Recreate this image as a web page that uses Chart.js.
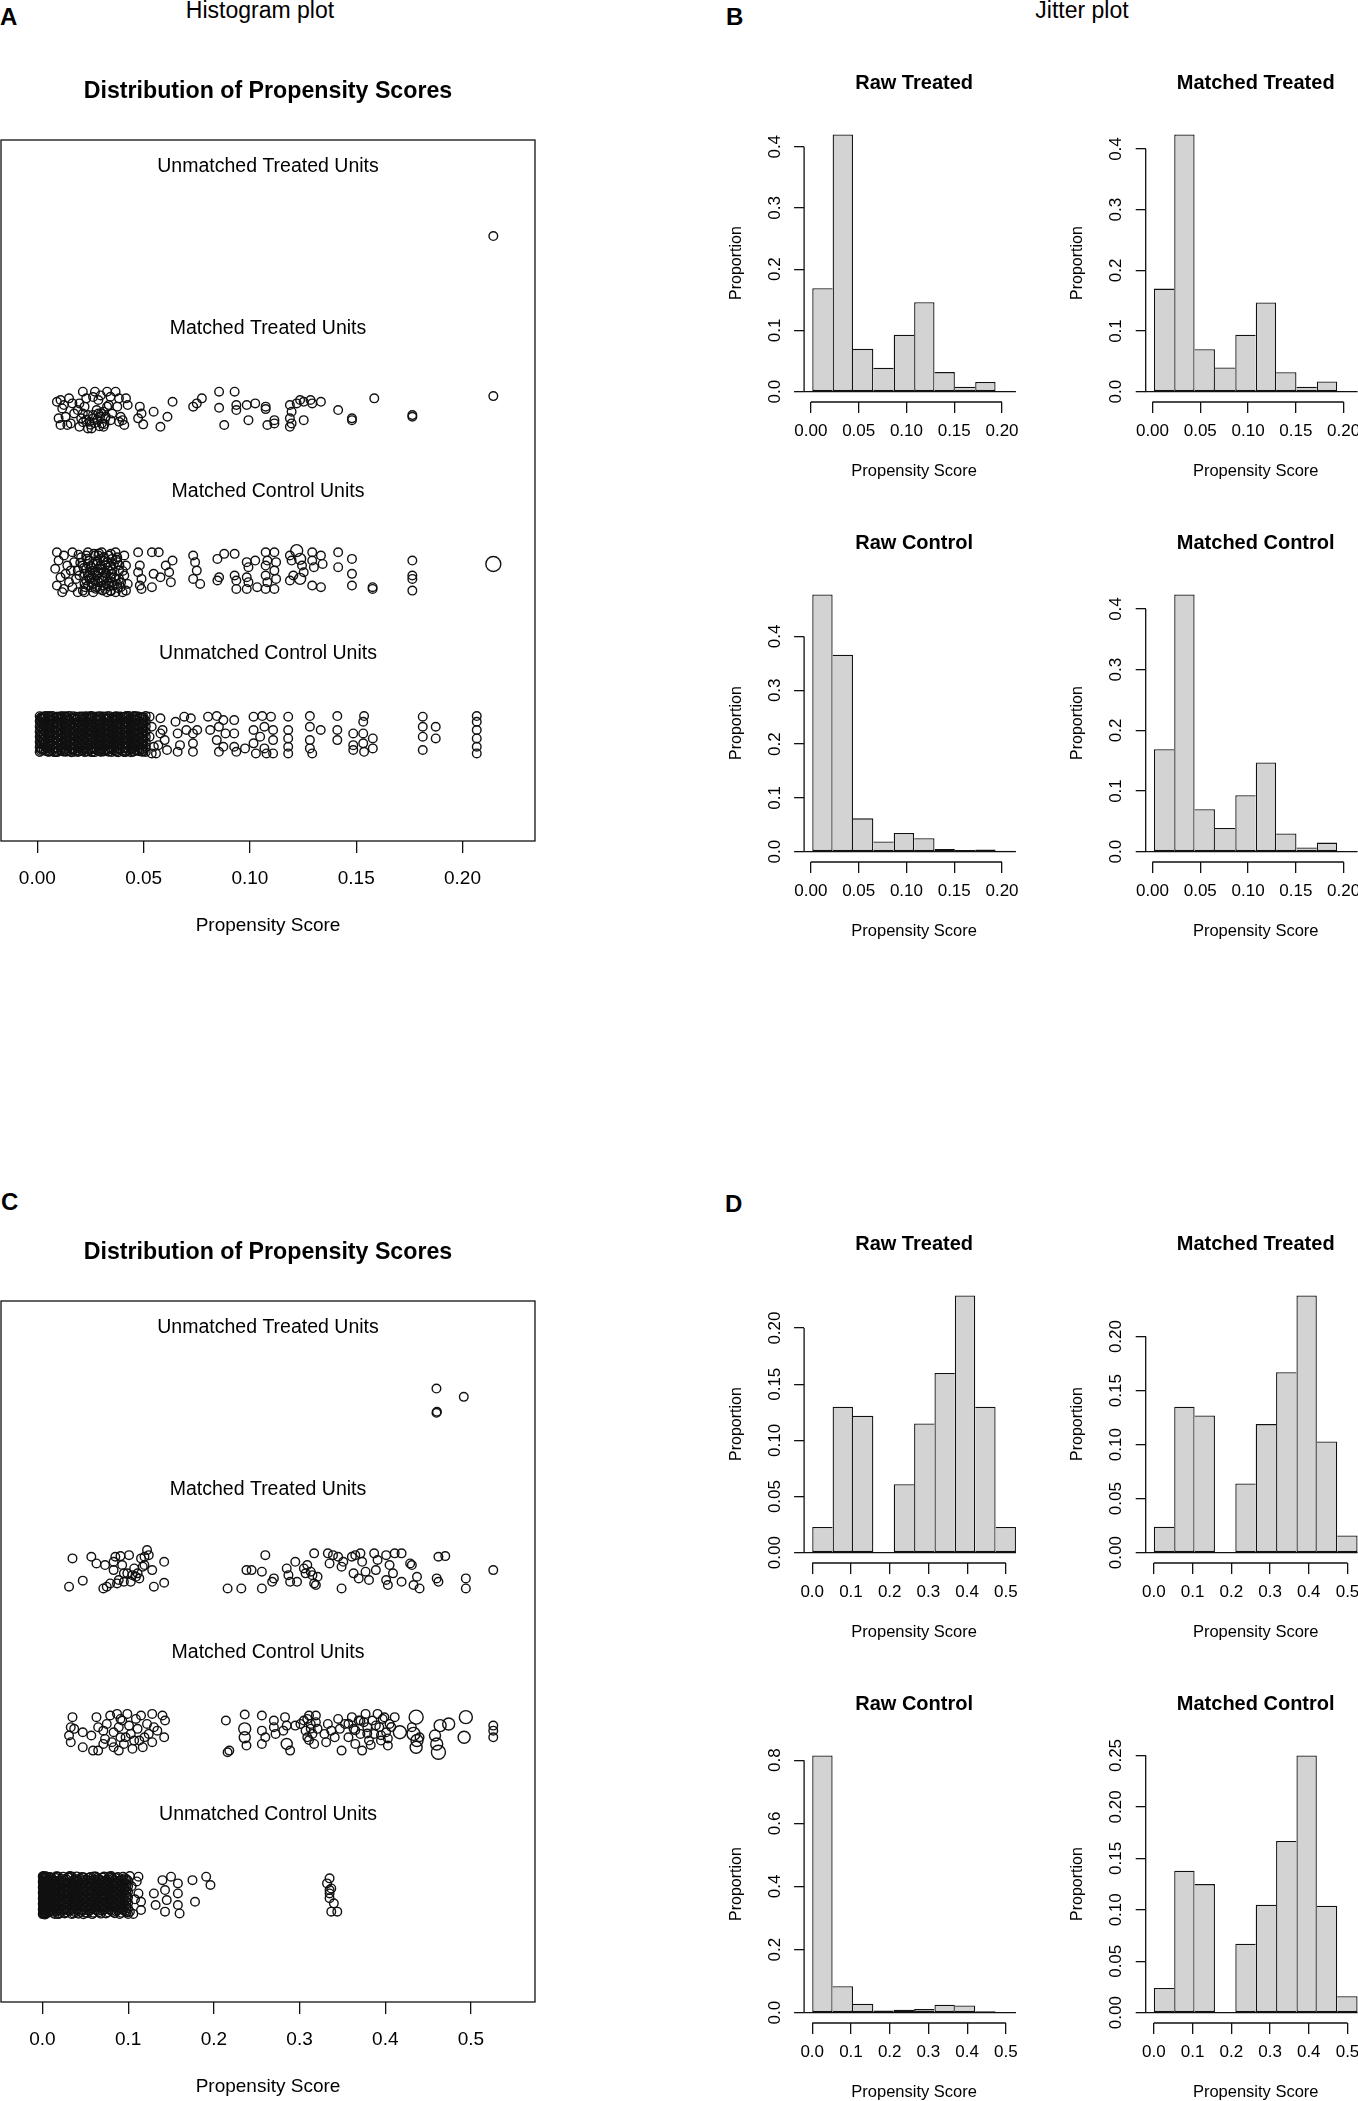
<!DOCTYPE html>
<html>
<head>
<meta charset="utf-8">
<script src="https://cdn.jsdelivr.net/npm/chart.js@4.4.1/dist/chart.umd.min.js"></script>
<style>
  html, body { margin: 0; padding: 0; background: #fff; overflow: hidden; }
  #page { position: relative; width: 1358px; height: 2101px; overflow: hidden;
          font-family: "Liberation Sans", Arial, Helvetica, sans-serif; color: #000; }
  #page canvas { position: absolute; }
  .lbl { position: absolute; line-height: 1; white-space: nowrap; }
  .panel { font-weight: bold; font-size: 24px; }
  .sup { font-size: 23px; transform: translateX(-50%); }
</style>
</head>
<body>
<div id="page">
  <div class="lbl panel" style="left:0px;top:4.7px">A</div>
  <div class="lbl sup" style="left:260px;top:-1.2px">Histogram plot</div>
  <div class="lbl panel" style="left:726px;top:4.7px">B</div>
  <div class="lbl sup" style="left:1082px;top:-1.2px">Jitter plot</div>
  <div class="lbl panel" style="left:1px;top:1189.7px">C</div>
  <div class="lbl panel" style="left:725px;top:1191.7px">D</div>
</div>
<script>
/* ============================================================
   Propensity score diagnostics – jitter plots (A, C) and
   histograms (B, D)
   ============================================================ */

// ── Shared labels ─────────────────────────────────────────────
const ROW_LABELS = ['Unmatched Treated Units', 'Matched Treated Units',
                    'Matched Control Units', 'Unmatched Control Units'];
const ROW_LEVELS = [4, 3, 2, 1];
const HIST_TITLES = ['Raw Treated', 'Matched Treated', 'Raw Control', 'Matched Control'];

// ── Panel A: jitter points  [score, vertical jitter, radius?] ─
const A_X_TICKS = [0, 0.05, 0.10, 0.15, 0.20];
const A_UNMATCHED_TREATED = [[0.2145, 0.071]];
const A_MATCHED_TREATED = [
  [0.0109,0.062],[0.0092,0.051],[0.0117,0.010],[0.0100,-0.051],[0.0109,-0.092],[0.0125,0.031],
  [0.0149,0.072],[0.0165,0.041],[0.0173,-0.021],[0.0157,-0.082],[0.0198,-0.103],[0.0214,0.113],
  [0.0230,0.072],[0.0222,0.021],[0.0238,-0.031],[0.0246,-0.072],[0.0255,-0.113],[0.0271,0.113],
  [0.0287,0.062],[0.0279,0.000],[0.0295,-0.041],[0.0303,-0.082],[0.0311,-0.103],[0.0328,0.113],
  [0.0344,0.082],[0.0336,0.031],[0.0352,-0.021],[0.0344,-0.062],[0.0368,0.113],[0.0384,0.072],
  [0.0376,0.021],[0.0392,-0.041],[0.0401,-0.062],[0.0409,-0.092],[0.0417,0.072],[0.0425,0.031],
  [0.0384,-0.072],[0.0311,-0.010],[0.0263,-0.051],[0.0287,-0.021],[0.0319,-0.051],[0.0238,-0.113],
  [0.0206,-0.051],[0.0133,-0.041],[0.0214,-0.021],[0.0328,0.021],[0.0198,0.041],[0.0190,0.000],
  [0.0141,-0.092],[0.0230,-0.060],[0.0250,-0.090],[0.0262,-0.030],[0.0270,-0.080],[0.0282,-0.060],
  [0.0292,-0.100],[0.0300,-0.020],[0.0316,-0.085],[0.0322,-0.040],[0.0262,0.080],[0.0298,0.090],
  [0.0215,-0.075],
  [0.0482,0.021],[0.0490,-0.021],[0.0474,-0.051],[0.0498,-0.088],[0.0547,-0.010],
  [0.0579,-0.103],[0.0612,-0.041],[0.0636,0.051],[0.0733,0.021],[0.0750,0.041],[0.0774,0.072],
  [0.0855,0.113],[0.0855,0.014],[0.0879,-0.092],[0.0928,0.113],[0.0936,0.031],[0.0936,0.000],
  [0.0985,0.031],[0.0993,-0.062],[0.1025,0.041],[0.1074,0.021],[0.1074,0.006],[0.1082,-0.092],
  [0.1115,-0.062],[0.1115,-0.082],[0.1188,0.031],[0.1196,-0.010],[0.1188,-0.051],[0.1196,-0.082],
  [0.1188,-0.103],[0.1220,0.041],[0.1236,0.062],[0.1253,-0.062],[0.1253,0.051],[0.1285,0.062],
  [0.1293,0.041],[0.1334,0.051],[0.1415,0.000],[0.1480,-0.051],[0.1480,-0.062],[0.1585,0.072],
  [0.1764,-0.031],[0.1764,-0.041],[0.2145,0.086],
];
const A_MATCHED_CONTROL = [
  [0.0092,0.125],[0.0100,0.074],[0.0084,0.023],[0.0109,-0.029],[0.0092,-0.080],[0.0117,-0.121],
  [0.0125,0.105],[0.0141,0.043],[0.0133,-0.008],[0.0149,-0.059],[0.0125,-0.101],[0.0165,0.125],
  [0.0173,0.064],[0.0157,0.012],[0.0182,-0.039],[0.0165,-0.090],[0.0190,-0.121],[0.0206,0.094],
  [0.0214,0.043],[0.0198,-0.018],[0.0222,-0.070],[0.0214,-0.111],[0.0238,0.125],[0.0246,0.074],
  [0.0230,0.023],[0.0255,-0.029],[0.0238,-0.080],[0.0263,-0.121],[0.0271,0.105],[0.0279,0.053],
  [0.0287,0.002],[0.0271,-0.049],[0.0295,-0.101],[0.0303,0.125],[0.0311,0.074],[0.0303,0.023],
  [0.0319,-0.029],[0.0311,-0.080],[0.0328,-0.121],[0.0336,0.105],[0.0344,0.043],[0.0352,-0.008],
  [0.0336,-0.059],[0.0344,-0.111],[0.0368,0.125],[0.0376,0.064],[0.0384,0.012],[0.0368,-0.039],
  [0.0392,-0.090],[0.0401,-0.121],[0.0409,0.105],[0.0417,0.043],[0.0409,-0.018],[0.0425,-0.070],
  [0.0417,-0.111],[0.0222,-0.008],[0.0255,0.033],[0.0287,-0.059],[0.0319,0.043],[0.0352,0.084],
  [0.0384,-0.039],[0.0190,0.012],[0.0246,-0.039],[0.0279,-0.090],[0.0311,0.002],[0.0344,-0.029],
  [0.0376,-0.070],[0.0230,0.105],[0.0246,0.002],[0.0263,0.053],[0.0279,-0.018],[0.0295,0.084],
  [0.0303,-0.049],[0.0319,-0.101],[0.0336,0.012],[0.0360,0.053],[0.0360,-0.080],[0.0230,-0.049],
  [0.0255,-0.090],[0.0271,0.002],[0.0287,0.105],[0.0311,-0.039],[0.0328,0.064],[0.0352,-0.059],
  [0.0376,0.094],[0.0238,0.053],[0.0222,-0.121],[0.0368,-0.121],[0.0295,0.023],[0.0263,-0.070],
  [0.0194,0.110],[0.0202,0.060],[0.0218,0.028],[0.0226,-0.090],[0.0234,0.085],[0.0242,-0.020],
  [0.0250,0.040],[0.0258,-0.060],[0.0266,0.115],[0.0274,-0.100],[0.0282,0.070],[0.0290,-0.035],
  [0.0298,0.045],[0.0306,-0.110],[0.0314,0.095],[0.0322,-0.005],[0.0330,0.030],[0.0338,-0.085],
  [0.0346,0.115],[0.0354,0.020],[0.0362,-0.030],[0.0370,0.080],[0.0378,-0.095],[0.0386,0.045],
  [0.0394,-0.060],[0.0402,0.010],[0.0258,0.010],[0.0290,0.118],[0.0322,-0.070],[0.0346,-0.115],
  [0.0474,0.125],[0.0482,0.043],[0.0474,0.002],[0.0490,-0.039],[0.0482,-0.080],[0.0490,-0.101],
  [0.0539,0.125],[0.0571,0.125],[0.0547,-0.008],[0.0579,-0.029],[0.0604,0.043],[0.0620,0.002],
  [0.0636,0.074],[0.0628,-0.059],[0.0539,-0.090],[0.0733,0.105],[0.0742,0.064],[0.0750,0.012],
  [0.0733,-0.039],[0.0766,-0.070],[0.0847,0.084],[0.0879,0.115],[0.0928,0.115],[0.0855,-0.029],
  [0.0847,-0.049],[0.0928,-0.018],[0.0936,-0.049],[0.0936,-0.101],[0.0985,0.064],[0.0993,0.033],
  [0.1025,0.074],[0.0985,-0.029],[0.0993,-0.059],[0.1034,-0.090],[0.0985,-0.101],[0.1074,0.125],
  [0.1082,0.074],[0.1074,0.043],[0.1074,-0.018],[0.1082,-0.059],[0.1074,-0.101],[0.1115,0.125],
  [0.1123,0.064],[0.1115,0.012],[0.1123,-0.039],[0.1115,-0.101],[0.1188,0.105],[0.1196,0.074],
  [0.1220,0.135,6],[0.1236,0.084,5.5],[0.1245,0.043],[0.1253,0.002],[0.1204,-0.018],[0.1188,-0.049],
  [0.1236,-0.039,5.5],[0.1293,0.125],[0.1293,0.074],[0.1301,0.033],[0.1334,0.105],[0.1342,0.053],
  [0.1293,-0.080],[0.1334,-0.090],[0.1415,0.125],[0.1415,0.033],[0.1480,0.084],[0.1480,-0.008],
  [0.1480,-0.080],[0.1577,-0.090],[0.1577,-0.101],[0.1764,0.074],[0.1764,-0.018],[0.1764,-0.039],
  [0.1764,-0.111],[0.2145,0.053,7.5],
];
const A_UNMATCHED_CONTROL = [
  [0.0528,0.113],[0.0538,0.051],[0.0528,-0.010],[0.0548,-0.072],[0.0558,-0.113],[0.0579,0.103],
  [0.0589,0.031],[0.0599,-0.031],[0.0569,-0.062],[0.0610,-0.092],[0.0538,-0.113],[0.0579,0.010],
  [0.0650,0.082],[0.0660,0.010],[0.0671,-0.062],[0.0660,-0.103],[0.0691,0.113],[0.0701,0.031],
  [0.0722,0.103],[0.0732,0.010],[0.0732,-0.051],[0.0732,-0.103],[0.0752,0.031],[0.0803,0.113],
  [0.0813,0.031],[0.0844,0.117],[0.0854,0.051],[0.0844,-0.031],[0.0854,-0.103],[0.0875,0.092],
  [0.0885,0.010],[0.0875,-0.072],[0.0926,0.092],[0.0926,0.010],[0.0926,-0.072],[0.0936,-0.103],
  [0.0977,-0.082],[0.1017,0.113],[0.1017,0.031],[0.1017,-0.051],[0.1028,-0.113],[0.1058,0.117],
  [0.1068,0.051],[0.1048,-0.010],[0.1068,-0.082],[0.1099,0.113],[0.1109,0.031],[0.1109,-0.031],
  [0.1109,-0.113],[0.1078,-0.113],[0.1180,0.113],[0.1180,0.031],[0.1180,-0.021],[0.1180,-0.072],
  [0.1180,-0.113],[0.1282,0.117],[0.1282,0.051],[0.1282,-0.031],[0.1282,-0.082],[0.1293,-0.113],
  [0.1333,0.031],[0.1411,0.117],[0.1411,0.031],[0.1411,-0.031],[0.1486,0.010],[0.1486,-0.062],
  [0.1486,-0.092],[0.1537,0.117],[0.1533,0.082],[0.1533,0.010],[0.1533,-0.051],[0.1537,-0.103],
  [0.1578,-0.021],[0.1578,-0.082],[0.1813,0.113],[0.1813,0.051],[0.1813,-0.010],[0.1813,-0.092],
  [0.1874,0.051],[0.1874,-0.021],[0.2067,0.117],[0.2067,0.082],[0.2067,0.031],[0.2067,-0.021],
  [0.2067,-0.072],[0.2067,-0.113],
];
// densely over-plotted low scores: [score, [jitters at that score]]
const A_UNMATCHED_CONTROL_DENSE = [
  [0.0011,[0.116,0.085,0.053,0.021,-0.011,-0.043,-0.074,-0.104]],
  [0.0016,[0.108,0.077,0.045,0.013,-0.019,-0.051,-0.083,-0.097]],
  [0.0021,[0.100,0.068,0.037,0.005,-0.027,-0.059,-0.090,0.109]],
  [0.0030,[0.101,0.069,0.037,0.005,-0.027,-0.058,-0.090,0.114]],
  [0.0040,[0.117,0.085,0.053,0.021,-0.011,-0.043,-0.075,-0.098]],
  [0.0049,[0.110,0.077,0.046,0.013,-0.019,-0.050,-0.082,-0.103]],
  [0.0055,[0.090,0.058,0.026,-0.006,-0.038,-0.070,-0.102,0.117]],
  [0.0061,[0.094,0.061,0.029,-0.003,-0.035,-0.067,-0.100,0.112]],
  [0.0071,[0.094,0.062,0.029,-0.003,-0.035,-0.066,-0.097,0.117]],
  [0.0079,[0.108,0.076,0.045,0.013,-0.019,-0.051,-0.083,-0.105]],
  [0.0089,[0.113,0.081,0.049,0.017,-0.015,-0.047,-0.078,-0.105]],
  [0.0095,[0.112,0.080,0.048,0.016,-0.016,-0.048,-0.080,-0.104]],
  [0.0100,[0.097,0.066,0.034,0.002,-0.030,-0.062,-0.093,0.111]],
  [0.0110,[0.098,0.066,0.033,0.001,-0.031,-0.062,-0.094,0.115]],
  [0.0121,[0.115,0.083,0.051,0.019,-0.013,-0.045,-0.077,-0.101]],
  [0.0131,[0.108,0.075,0.043,0.010,-0.022,-0.054,-0.086,-0.102]],
  [0.0135,[0.093,0.062,0.030,-0.002,-0.034,-0.066,-0.098,0.115]],
  [0.0139,[0.092,0.059,0.027,-0.005,-0.037,-0.069,-0.101,0.110]],
  [0.0150,[0.117,0.089,0.057,0.025,-0.007,-0.039,-0.070,-0.100]],
  [0.0160,[0.104,0.072,0.041,0.009,-0.023,-0.055,-0.087,-0.106]],
  [0.0169,[0.103,0.071,0.039,0.007,-0.025,-0.056,-0.088,0.116]],
  [0.0175,[0.106,0.074,0.042,0.010,-0.022,-0.054,-0.086,-0.103]],
  [0.0181,[0.096,0.064,0.032,0.000,-0.032,-0.064,-0.096,0.113]],
  [0.0191,[0.111,0.079,0.047,0.015,-0.017,-0.049,-0.080,-0.104]],
  [0.0199,[0.114,0.082,0.050,0.018,-0.014,-0.046,-0.078,-0.099]],
  [0.0209,[0.096,0.064,0.031,-0.001,-0.033,-0.064,-0.095,0.113]],
  [0.0215,[0.097,0.065,0.033,0.001,-0.031,-0.063,-0.095,0.114]],
  [0.0221,[0.107,0.074,0.042,0.010,-0.022,-0.054,-0.086,-0.104]],
  [0.0230,[0.115,0.083,0.051,0.019,-0.013,-0.045,-0.076,-0.103]],
  [0.0240,[0.093,0.060,0.028,-0.004,-0.036,-0.068,-0.100,0.111]],
  [0.0251,[0.100,0.068,0.036,0.004,-0.028,-0.060,-0.091,0.117]],
  [0.0255,[0.110,0.078,0.046,0.014,-0.018,-0.050,-0.082,-0.105]],
  [0.0259,[0.116,0.084,0.052,0.020,-0.012,-0.044,-0.076,-0.102]],
  [0.0270,[0.109,0.076,0.044,0.012,-0.020,-0.052,-0.084,-0.105]],
  [0.0281,[0.099,0.067,0.035,0.003,-0.029,-0.061,-0.093,0.114]],
  [0.0289,[0.093,0.061,0.028,-0.004,-0.036,-0.067,-0.098,0.112]],
  [0.0295,[0.091,0.059,0.027,-0.005,-0.037,-0.069,-0.101,0.116]],
  [0.0300,[0.106,0.073,0.041,0.009,-0.023,-0.055,-0.087,-0.103]],
  [0.0311,[0.114,0.082,0.050,0.018,-0.014,-0.046,-0.077,-0.101]],
  [0.0320,[0.095,0.063,0.031,-0.001,-0.033,-0.065,-0.097,0.110]],
  [0.0329,[0.099,0.067,0.034,0.002,-0.030,-0.061,-0.093,0.116]],
  [0.0335,[0.104,0.072,0.040,0.008,-0.024,-0.056,-0.088,-0.102]],
  [0.0339,[0.116,0.083,0.051,0.019,-0.013,-0.045,-0.077,-0.100]],
  [0.0350,[0.107,0.074,0.042,0.009,-0.023,-0.055,-0.087,-0.104]],
  [0.0361,[0.097,0.065,0.033,0.001,-0.031,-0.063,-0.095,0.113]],
  [0.0371,[0.116,0.087,0.055,0.023,-0.009,-0.041,-0.072,-0.102]],
  [0.0375,[0.095,0.063,0.031,-0.001,-0.033,-0.065,-0.097,0.113]],
  [0.0380,[0.109,0.077,0.044,0.012,-0.020,-0.052,-0.084,-0.106]],
  [0.0390,[0.102,0.070,0.038,0.006,-0.026,-0.057,-0.089,0.114]],
  [0.0401,[0.094,0.062,0.030,-0.002,-0.034,-0.066,-0.098,0.111]],
  [0.0409,[0.111,0.078,0.046,0.014,-0.018,-0.050,-0.081,-0.105]],
  [0.0415,[0.113,0.081,0.049,0.017,-0.015,-0.047,-0.079,-0.104]],
  [0.0419,[0.117,0.085,0.053,0.021,-0.011,-0.043,-0.075,-0.099]],
  [0.0430,[0.095,0.063,0.030,-0.002,-0.034,-0.065,-0.096,0.117]],
  [0.0440,[0.104,0.071,0.039,0.007,-0.025,-0.057,-0.089,-0.106]],
  [0.0451,[0.113,0.080,0.048,0.016,-0.016,-0.048,-0.079,-0.103]],
  [0.0455,[0.092,0.060,0.028,-0.004,-0.036,-0.068,-0.100,0.117]],
  [0.0461,[0.098,0.066,0.034,0.002,-0.030,-0.062,-0.094,0.112]],
  [0.0469,[0.097,0.065,0.032,0.000,-0.032,-0.063,-0.095,0.115]],
  [0.0480,[0.112,0.080,0.048,0.016,-0.016,-0.048,-0.080,-0.100]],
  [0.0490,[0.108,0.073,0.041,0.008,-0.024,-0.056,-0.087,-0.101]],
  [0.0495,[0.107,0.075,0.043,0.011,-0.021,-0.053,-0.085,-0.103]],
  [0.0500,[0.093,0.061,0.029,-0.003,-0.035,-0.067,-0.099,0.110]],
  [0.0510,[0.117,0.086,0.054,0.022,-0.010,-0.042,-0.073,-0.104]],
];

// ── Panel C: jitter points ────────────────────────────────────
const C_X_TICKS = [0, 0.1, 0.2, 0.3, 0.4, 0.5];
const C_UNMATCHED_TREATED = [[0.4597,0.123],[0.4916,0.072],[0.4597,-0.026],[0.4603,-0.020]];
const C_MATCHED_TREATED = [
  [0.035,0.078],[0.031,-0.096],[0.047,-0.059],[0.057,0.088],[0.063,0.047],[0.073,0.037],
  [0.071,-0.107],[0.079,-0.076],[0.083,0.057],[0.085,0.088],[0.091,0.092],[0.089,-0.055],
  [0.083,0.006],[0.093,0.037],[0.095,-0.014],[0.101,0.098],[0.103,-0.066],[0.107,0.016],
  [0.109,-0.035],[0.111,-0.014],[0.113,-0.045],[0.115,0.078],[0.117,0.027],[0.119,0.088],
  [0.122,0.129],[0.124,0.098],[0.128,0.006],[0.130,-0.096],[0.142,0.057],[0.142,-0.072],
  [0.095,-0.066],[0.087,-0.076],[0.075,-0.096],[0.099,-0.014],[0.105,-0.025],[0.119,0.037],
  [0.216,-0.107],[0.232,-0.107],[0.238,0.006],[0.244,0.006],[0.256,-0.004],[0.256,-0.107],
  [0.260,0.098],[0.270,-0.045],[0.268,-0.066],[0.285,0.016],[0.287,-0.025],[0.289,-0.066],
  [0.295,0.057],[0.297,-0.066],[0.305,0.016],[0.307,-0.014],[0.309,0.037],[0.313,-0.004],
  [0.315,-0.025],[0.317,-0.076],[0.321,-0.035],[0.319,-0.086],[0.317,0.109],[0.333,0.109],
  [0.335,0.047],[0.339,0.098],[0.345,0.088],[0.349,0.027],[0.351,0.057],[0.349,-0.107],
  [0.361,0.088],[0.363,-0.014],[0.365,0.098],[0.369,-0.045],[0.371,0.109],[0.373,0.057],
  [0.377,-0.004],[0.381,-0.055],[0.387,0.109],[0.389,0.006],[0.391,0.068],[0.401,0.098],
  [0.401,-0.055],[0.403,-0.086],[0.405,0.037],[0.409,-0.014],[0.411,0.109],[0.419,0.109],
  [0.419,-0.066],[0.429,0.047],[0.431,0.037],[0.433,-0.086],[0.437,-0.035],[0.440,-0.107],
  [0.462,0.088],[0.470,0.092],[0.460,-0.045],[0.462,-0.066],[0.494,-0.045],[0.494,-0.107],
  [0.526,0.006],
];
const C_MATCHED_CONTROL = [
  [0.035,0.101],[0.033,0.039],[0.031,-0.012],[0.033,-0.053],[0.037,0.029],[0.047,0.008],
  [0.047,-0.084],[0.057,-0.012],[0.059,-0.105],[0.063,0.101],[0.065,0.039],[0.065,-0.105],
  [0.071,0.018],[0.073,-0.033],[0.075,0.059],[0.079,0.111],[0.081,-0.053],[0.083,0.008],
  [0.087,0.121],[0.089,0.039],[0.089,-0.105],[0.091,-0.023],[0.093,0.080],[0.095,-0.064],
  [0.099,0.121],[0.101,0.049],[0.103,-0.002],[0.105,-0.094],[0.109,0.090],[0.111,0.029],
  [0.113,-0.043],[0.115,0.111],[0.117,-0.084],[0.122,0.059],[0.124,-0.002],[0.128,0.121],
  [0.128,-0.053],[0.130,0.039],[0.140,0.111],[0.142,-0.023],[0.143,0.080],[0.134,0.018],
  [0.083,-0.084],[0.097,-0.023],[0.107,-0.043],[0.119,-0.023],[0.091,0.090],[0.071,-0.064],
  [0.214,0.080],[0.216,-0.115],[0.218,-0.105],[0.236,0.117],[0.236,0.029,6],[0.236,-0.023,5.5],
  [0.238,-0.074],[0.256,0.111],[0.256,0.018],[0.256,-0.064],[0.260,-0.023],[0.270,0.080],
  [0.270,0.039],[0.272,-0.002],[0.281,0.018],[0.283,0.101],[0.285,0.049],[0.285,-0.064,5.5],
  [0.289,-0.105],[0.295,0.049],[0.301,0.059],[0.305,0.080],[0.307,0.018],[0.309,-0.023],
  [0.311,0.111],[0.313,0.059],[0.315,-0.002],[0.317,-0.064],[0.319,0.111],[0.321,0.029],
  [0.329,-0.002],[0.331,-0.053],[0.333,0.059],[0.337,0.018],[0.341,-0.023],[0.345,0.090],
  [0.347,0.029],[0.349,-0.105],[0.353,0.059],[0.357,-0.023],[0.361,0.101],[0.363,0.029],
  [0.365,-0.064],[0.369,0.080],[0.371,-0.002],[0.373,-0.105],[0.377,0.121],[0.379,0.039],
  [0.381,-0.043],[0.385,0.080],[0.387,-0.002],[0.391,0.121],[0.393,0.039],[0.395,-0.043],
  [0.397,0.090],[0.401,0.008],[0.403,-0.074],[0.405,0.059],[0.411,0.101],[0.417,0.008,6.5],
  [0.436,0.101,7],[0.431,0.039],[0.433,-0.002,6.5],[0.437,-0.043,6],[0.436,-0.084,6],[0.440,-0.023],
  [0.458,-0.012,5.5],[0.460,-0.064,6],[0.462,-0.115,7],[0.464,0.049,6],[0.474,0.059,6],[0.494,0.101,6.5],
  [0.492,-0.023,6],[0.526,0.049],[0.526,0.018],[0.526,-0.023],
  [0.309,0.090],[0.313,0.030],[0.375,0.070],[0.379,0.000],[0.383,-0.070],[0.389,0.050],
  [0.395,-0.010],[0.399,0.100],[0.403,-0.030],[0.407,0.040],[0.311,-0.040],[0.319,0.070],
  [0.365,0.020],[0.371,0.080],[0.357,0.060],
];
const C_UNMATCHED_CONTROL = [
  [0.102,0.123],[0.112,0.119],[0.112,0.016],[0.115,-0.035],[0.115,-0.086],[0.102,-0.096],
  [0.130,0.016],[0.132,-0.055],[0.140,0.098],[0.143,0.037],[0.145,-0.025],[0.143,-0.096],
  [0.150,0.119],[0.158,0.078],[0.158,0.016],[0.158,-0.055],[0.160,-0.107],[0.175,0.098],
  [0.178,-0.035],[0.191,0.119],[0.196,0.068],[0.335,0.109],[0.332,0.078],[0.337,0.047],
  [0.335,0.016],[0.340,-0.045],[0.337,-0.096],[0.344,-0.096],[0.335,0.037],[0.335,-0.014],
  [0.104,0.060],[0.108,-0.020],[0.106,-0.110],[0.110,0.090],
];
const C_UNMATCHED_CONTROL_DENSE = [
  [0.0003,[0.121,0.088,0.054,0.020,-0.014,-0.048,-0.082,-0.111]],
  [0.0007,[0.113,0.079,0.045,0.011,-0.023,-0.057,-0.091,-0.106]],
  [0.0012,[0.105,0.071,0.037,0.003,-0.031,-0.065,-0.099,0.123]],
  [0.0018,[0.096,0.062,0.028,-0.006,-0.040,-0.074,-0.108,0.117]],
  [0.0024,[0.114,0.080,0.046,0.012,-0.022,-0.056,-0.090,-0.113]],
  [0.0036,[0.122,0.088,0.054,0.020,-0.014,-0.048,-0.082,-0.112]],
  [0.0052,[0.098,0.064,0.030,-0.004,-0.038,-0.072,-0.106,0.119]],
  [0.0070,[0.104,0.070,0.036,0.002,-0.032,-0.066,-0.100]],
  [0.0089,[0.117,0.083,0.049,0.015,-0.019,-0.053,-0.087]],
  [0.0105,[0.111,0.077,0.043,0.009,-0.025,-0.059,-0.093]],
  [0.0121,[0.101,0.067,0.033,-0.001,-0.035,-0.069,-0.103]],
  [0.0142,[0.094,0.060,0.026,-0.008,-0.042,-0.076,-0.110]],
  [0.0162,[0.111,0.077,0.043,0.009,-0.025,-0.059,-0.093,0.122]],
  [0.0180,[0.120,0.086,0.052,0.018,-0.016,-0.050,-0.084,-0.111]],
  [0.0198,[0.095,0.061,0.027,-0.007,-0.041,-0.075,-0.109]],
  [0.0220,[0.106,0.072,0.038,0.004,-0.030,-0.064,-0.098]],
  [0.0241,[0.119,0.085,0.051,0.017,-0.017,-0.051,-0.085]],
  [0.0260,[0.097,0.063,0.029,-0.005,-0.039,-0.073,-0.107]],
  [0.0279,[0.103,0.069,0.035,0.001,-0.033,-0.067,-0.101]],
  [0.0298,[0.115,0.081,0.047,0.013,-0.021,-0.055,-0.089]],
  [0.0318,[0.113,0.079,0.045,0.011,-0.023,-0.057,-0.091,0.123]],
  [0.0340,[0.121,0.087,0.053,0.019,-0.015,-0.049,-0.083,-0.110]],
  [0.0362,[0.097,0.063,0.029,-0.005,-0.039,-0.073,-0.107]],
  [0.0380,[0.105,0.071,0.037,0.003,-0.031,-0.065,-0.099]],
  [0.0399,[0.121,0.087,0.053,0.019,-0.015,-0.049,-0.083]],
  [0.0420,[0.095,0.061,0.027,-0.007,-0.041,-0.075,-0.109]],
  [0.0441,[0.106,0.072,0.038,0.004,-0.030,-0.064,-0.098]],
  [0.0459,[0.118,0.084,0.050,0.016,-0.018,-0.052,-0.086]],
  [0.0478,[0.115,0.081,0.047,0.013,-0.021,-0.055,-0.089,-0.112]],
  [0.0500,[0.102,0.068,0.034,0.000,-0.034,-0.068,-0.102]],
  [0.0522,[0.099,0.065,0.031,-0.003,-0.037,-0.071,-0.105]],
  [0.0541,[0.112,0.078,0.044,0.010,-0.024,-0.058,-0.092]],
  [0.0561,[0.118,0.084,0.050,0.016,-0.018,-0.052,-0.086]],
  [0.0580,[0.093,0.059,0.025,-0.009,-0.043,-0.077,-0.111]],
  [0.0600,[0.102,0.068,0.034,0.000,-0.034,-0.068,-0.102,0.121]],
  [0.0621,[0.120,0.086,0.052,0.018,-0.016,-0.050,-0.084]],
  [0.0642,[0.112,0.078,0.044,0.010,-0.024,-0.058,-0.092]],
  [0.0661,[0.104,0.070,0.036,0.002,-0.032,-0.066,-0.100]],
  [0.0681,[0.096,0.062,0.028,-0.006,-0.040,-0.074,-0.108]],
  [0.0700,[0.114,0.080,0.046,0.012,-0.022,-0.056,-0.090]],
  [0.0719,[0.120,0.086,0.052,0.018,-0.016,-0.050,-0.084]],
  [0.0741,[0.097,0.063,0.029,-0.005,-0.039,-0.073,-0.107]],
  [0.0762,[0.104,0.070,0.036,0.002,-0.032,-0.066,-0.100]],
  [0.0781,[0.121,0.087,0.053,0.019,-0.015,-0.049,-0.083]],
  [0.0801,[0.114,0.080,0.046,0.012,-0.022,-0.056,-0.090,0.123]],
  [0.0822,[0.106,0.072,0.038,0.004,-0.030,-0.064,-0.098]],
  [0.0843,[0.098,0.064,0.030,-0.004,-0.038,-0.072,-0.106]],
  [0.0861,[0.111,0.077,0.043,0.009,-0.025,-0.059,-0.093]],
  [0.0880,[0.117,0.083,0.049,0.015,-0.019,-0.053,-0.087]],
  [0.0901,[0.094,0.060,0.026,-0.008,-0.042,-0.076,-0.110]],
  [0.0921,[0.101,0.067,0.033,-0.001,-0.035,-0.069,-0.103]],
  [0.0941,[0.119,0.085,0.051,0.017,-0.017,-0.051,-0.085]],
  [0.0962,[0.110,0.076,0.042,0.008,-0.026,-0.060,-0.094]],
  [0.0981,[0.103,0.069,0.035,0.001,-0.033,-0.067,-0.101]],
  [0.0999,[0.094,0.060,0.026,-0.008,-0.042,-0.076,-0.110]],
];

// ── Panel B: histogram proportions (10 bins, 0.0014 – 0.2146) ─
const B_BIN_MIDS = [0.0121, 0.0334, 0.0547, 0.0760, 0.0973, 0.1187, 0.1400, 0.1613, 0.1826, 0.2039];
const B_BIN_WIDTH = 0.0213;
const B_X_TICKS = [0, 0.05, 0.10, 0.15, 0.20];
const B_Y_TICKS = [0, 0.1, 0.2, 0.3, 0.4];
const B_RAW_TREATED     = [0.169, 0.420, 0.070, 0.039, 0.093, 0.146, 0.032, 0.008, 0.016, 0];
const B_MATCHED_TREATED = [0.170, 0.424, 0.070, 0.040, 0.094, 0.147, 0.032, 0.008, 0.017, 0];
const B_RAW_CONTROL     = [0.478, 0.366, 0.062, 0.019, 0.035, 0.025, 0.005, 0.003, 0.004, 0.002];
const B_MATCHED_CONTROL = [0.169, 0.424, 0.070, 0.039, 0.093, 0.147, 0.030, 0.007, 0.015, 0];

// ── Panel D: histogram proportions (10 bins, 0 – 0.526) ───────
const D_BIN_MIDS = [0.0263, 0.0789, 0.1315, 0.1841, 0.2367, 0.2893, 0.3419, 0.3945, 0.4471, 0.4997];
const D_BIN_WIDTH = 0.0526;
const D_X_TICKS = [0, 0.1, 0.2, 0.3, 0.4, 0.5];
const D_Y_TICKS_SMALL = [0, 0.05, 0.10, 0.15, 0.20];
const D_Y_TICKS_RAWC  = [0, 0.2, 0.4, 0.6, 0.8];
const D_Y_TICKS_MC    = [0, 0.05, 0.10, 0.15, 0.20, 0.25];
const D_RAW_TREATED     = [0.023, 0.130, 0.122, 0, 0.061, 0.115, 0.160, 0.229, 0.130, 0.023];
const D_MATCHED_TREATED = [0.024, 0.135, 0.127, 0, 0.064, 0.119, 0.167, 0.238, 0.103, 0.016];
const D_RAW_CONTROL     = [0.815, 0.084, 0.028, 0.007, 0.009, 0.012, 0.025, 0.023, 0.005, 0];
const D_MATCHED_CONTROL = [0.024, 0.138, 0.125, 0, 0.067, 0.105, 0.167, 0.250, 0.104, 0.016];

// ── Styling ───────────────────────────────────────────────────
const FONT = '"Liberation Sans", Arial, Helvetica, sans-serif';
const INK = '#111';
const LW = 1.3;
const PT_LW = 1.4;
const BAR_FILL = '#d3d3d3';
const PT_R = 4.3;

Chart.defaults.font.family = FONT;
Chart.defaults.color = '#000';

const page = document.getElementById('page');
const measureCtx = document.createElement('canvas').getContext('2d');

function widest(labels, size) {
  measureCtx.font = `${size}px ${FONT}`;
  return Math.max(...labels.map(l => measureCtx.measureText(l).width));
}

function addCanvas(left, top, width, height) {
  const c = document.createElement('canvas');
  c.width = width; c.height = height;
  c.style.left = left + 'px'; c.style.top = top + 'px';
  c.style.width = width + 'px'; c.style.height = height + 'px';
  page.appendChild(c);
  return c;
}

function toPoints(list, row) {
  return list.map(p => ({ x: p[0], y: row + p[1], r: p[2] || PT_R }));
}
function denseToPoints(cols, row) {
  const out = [];
  cols.forEach(([x, js]) => js.forEach(j => out.push({ x, y: row + j, r: PT_R })));
  return out;
}

// fixed axis box sizes so every chart area lands where the reference has it
function fixX(height) {
  return s => { s.height = height; s.paddingLeft = 0; s.paddingRight = 0; };
}
function fixY(width) {
  return s => { s.width = width; s.paddingTop = 0; s.paddingBottom = 0; };
}

// ── Plugins ───────────────────────────────────────────────────
const framePlugin = {
  id: 'frame',
  afterDraw(chart) {
    const { ctx, chartArea: a } = chart;
    ctx.save();
    ctx.strokeStyle = INK; ctx.lineWidth = LW;
    ctx.strokeRect(a.left, a.top, a.right - a.left, a.bottom - a.top);
    ctx.restore();
  },
};

const rowLabelPlugin = {
  id: 'rowLabels',
  afterDraw(chart) {
    const { ctx, chartArea: a, scales: { y } } = chart;
    ctx.save();
    ctx.fillStyle = '#000';
    ctx.font = `19.5px ${FONT}`;
    ctx.textAlign = 'center'; ctx.textBaseline = 'middle';
    ROW_LABELS.forEach((t, i) => ctx.fillText(t, (a.left + a.right) / 2, y.getPixelForValue(ROW_LEVELS[i] + 0.5)));
    ctx.restore();
  },
};

// R style axes: line only from first to last tick
const rAxesPlugin = {
  id: 'rAxes',
  afterDraw(chart) {
    const { ctx, chartArea: a, scales: { x, y } } = chart;
    ctx.save();
    ctx.strokeStyle = INK; ctx.lineWidth = LW;
    ctx.beginPath();
    const xt = x.ticks, yt = y.ticks;
    ctx.moveTo(x.getPixelForValue(xt[0].value), a.bottom);
    ctx.lineTo(x.getPixelForValue(xt[xt.length - 1].value), a.bottom);
    ctx.moveTo(a.left, y.getPixelForValue(yt[0].value));
    ctx.lineTo(a.left, y.getPixelForValue(yt[yt.length - 1].value));
    ctx.stroke();
    ctx.restore();
  },
};

function baselinePlugin(endX) {
  return {
    id: 'baseline',
    afterDatasetsDraw(chart) {
      const { ctx, chartArea: a, scales: { x, y } } = chart;
      const y0 = y.getPixelForValue(0);
      ctx.save();
      ctx.strokeStyle = INK; ctx.lineWidth = LW;
      ctx.beginPath();
      ctx.moveTo(a.left, y0);
      ctx.lineTo(x.getPixelForValue(endX), y0);
      ctx.stroke();
      ctx.restore();
    },
  };
}

// ── Jitter chart (panels A, C) ────────────────────────────────
// canvas starts 9px left of the page so the point-overflow margin
// Chart.js reserves does not push the plotting box to the right
function jitterChart(o) {
  const cv = addCanvas(-9, o.top, 569, o.height);
  const dsStyle = {
    pointStyle: 'circle',
    pointBackgroundColor: 'rgba(0,0,0,0)',
    pointBorderColor: INK,
    pointBorderWidth: PT_LW,
    pointRadius: c => (c.raw ? c.raw.r : PT_R),
    pointHoverRadius: 0,
    showLine: false,
  };
  new Chart(cv, {
    type: 'scatter',
    data: { datasets: o.groups.map(g => ({ data: g, ...dsStyle })) },
    options: {
      responsive: false, animation: false, events: [],
      layout: { padding: { left: 10, right: 25, top: 77.6, bottom: o.height - 841 - 95.9 } },
      plugins: {
        legend: { display: false }, tooltip: { enabled: false },
        title: {
          display: true, text: 'Distribution of Propensity Scores', fullSize: false, color: '#000',
          font: { size: 23.2, weight: 'bold', lineHeight: 1.2 }, padding: { top: 0, bottom: 34.56 },
        },
      },
      scales: {
        x: {
          type: 'linear', min: o.xMin, max: o.xMax,
          afterBuildTicks: s => { s.ticks = o.xTicks.map(v => ({ value: v })); },
          afterFit: fixX(95.9),
          ticks: { autoSkip: false, maxRotation: 0, padding: 14.1, font: { size: 19 }, callback: v => v.toFixed(o.xDec) },
          grid: { drawOnChartArea: false, tickLength: 12, color: INK, lineWidth: LW },
          border: { display: false },
          title: { display: true, text: 'Propensity Score', font: { size: 19 }, padding: 0 },
        },
        y: { type: 'linear', display: false, min: 0.348, max: 4.662 },
      },
    },
    plugins: [framePlugin, rowLabelPlugin],
  });
}

// ── Histogram chart (panels B, D) ─────────────────────────────
function histChart(o) {
  const area = { l: o.left, r: o.left + 220, t: o.top + 124.2, b: o.top + 402 };
  const cvL = Math.floor(area.l - 88), cvT = o.top + 40;
  const cvW = Math.ceil(area.r + 10) - cvL, cvH = 444;
  const cv = addCanvas(cvL, cvT, cvW, cvH);
  const vals = o.values;
  const peak = Math.max(...vals);
  const yLabels = o.yTicks.map(v => v.toFixed(o.yDec));
  const yPad = 19 - widest(yLabels, 17) / 2;
  const edgeW = i => ({
    top: LW, bottom: LW,
    left: (i === 0 || vals[i - 1] <= vals[i]) ? LW : 0,
    right: (i === vals.length - 1 || vals[i + 1] < vals[i]) ? LW : 0,
  });
  new Chart(cv, {
    type: 'bar',
    data: {
      datasets: [{
        data: o.mids.map((m, i) => ({ x: m, y: vals[i] })),
        backgroundColor: BAR_FILL, borderColor: INK,
        borderWidth: c => edgeW(c.dataIndex), borderSkipped: false,
        barPercentage: 1, categoryPercentage: 1, inflateAmount: 0,
      }],
    },
    options: {
      responsive: false, animation: false, events: [],
      layout: { padding: { left: area.l - 77.6 - cvL, right: cvL + cvW - area.r, top: 31.5, bottom: cvT + cvH - area.b - 79.4 } },
      plugins: {
        legend: { display: false }, tooltip: { enabled: false },
        title: {
          display: true, text: o.title, fullSize: false, color: '#000',
          font: { size: 20, weight: 'bold', lineHeight: 1.2 }, padding: { top: 0, bottom: 28.7 },
        },
      },
      scales: {
        x: {
          type: 'linear', offset: false, min: o.xMin, max: o.xMax,
          afterBuildTicks: s => { s.ticks = o.xTicks.map(v => ({ value: v })); },
          afterFit: fixX(79.4),
          ticks: { autoSkip: false, maxRotation: 0, padding: 8.3, font: { size: 17 }, callback: v => v.toFixed(o.xDec) },
          grid: { offset: false, drawOnChartArea: false, tickLength: 11, color: INK, lineWidth: LW },
          border: { display: false },
          title: { display: true, text: 'Propensity Score', font: { size: 16.5 }, padding: 0 },
        },
        y: {
          type: 'linear', min: -0.04 * peak, max: 1.04 * peak,
          afterBuildTicks: s => { s.ticks = o.yTicks.map(v => ({ value: v })); },
          afterFit: fixY(77.6),
          ticks: { autoSkip: false, minRotation: 90, maxRotation: 90, crossAlign: 'center', padding: yPad, font: { size: 17 }, callback: v => v.toFixed(o.yDec) },
          grid: { drawOnChartArea: false, tickLength: 10, color: INK, lineWidth: LW },
          border: { display: false },
          title: { display: true, text: 'Proportion', font: { size: 16 }, padding: 0 },
        },
      },
    },
    plugins: [rAxesPlugin, baselinePlugin(o.mids[o.mids.length - 1] + o.binW / 2)],
  });
}

// ── Build panels ──────────────────────────────────────────────
jitterChart({
  top: 0, height: 960, xMin: -0.0171, xMax: 0.2341, xTicks: A_X_TICKS, xDec: 2,
  groups: [
    toPoints(A_UNMATCHED_TREATED, 4),
    toPoints(A_MATCHED_TREATED, 3),
    toPoints(A_MATCHED_CONTROL, 2),
    toPoints(A_UNMATCHED_CONTROL, 1),
    denseToPoints(A_UNMATCHED_CONTROL_DENSE, 1),
  ],
});

jitterChart({
  top: 1161, height: 940, xMin: -0.0484, xMax: 0.5747, xTicks: C_X_TICKS, xDec: 1,
  groups: [
    toPoints(C_UNMATCHED_TREATED, 4),
    toPoints(C_MATCHED_TREATED, 3),
    toPoints(C_MATCHED_CONTROL, 2),
    toPoints(C_UNMATCHED_CONTROL, 1),
    denseToPoints(C_UNMATCHED_CONTROL_DENSE, 1),
  ],
});

const COL_LEFT = [804.1, 1145.7];
const B_SERIES = [B_RAW_TREATED, B_MATCHED_TREATED, B_RAW_CONTROL, B_MATCHED_CONTROL];
B_SERIES.forEach((vals, i) => histChart({
  left: COL_LEFT[i % 2], top: i < 2 ? 0 : 460, title: HIST_TITLES[i],
  mids: B_BIN_MIDS, binW: B_BIN_WIDTH, values: vals,
  xMin: -0.0071, xMax: 0.2231, xTicks: B_X_TICKS, xDec: 2,
  yTicks: B_Y_TICKS, yDec: 1,
}));

const D_SERIES = [D_RAW_TREATED, D_MATCHED_TREATED, D_RAW_CONTROL, D_MATCHED_CONTROL];
const D_Y_TICKS = [D_Y_TICKS_SMALL, D_Y_TICKS_SMALL, D_Y_TICKS_RAWC, D_Y_TICKS_MC];
const D_Y_DEC = [2, 2, 1, 2];
D_SERIES.forEach((vals, i) => histChart({
  left: COL_LEFT[i % 2], top: i < 2 ? 1161 : 1621, title: HIST_TITLES[i],
  mids: D_BIN_MIDS, binW: D_BIN_WIDTH, values: vals,
  xMin: -0.021, xMax: 0.547, xTicks: D_X_TICKS, xDec: 1,
  yTicks: D_Y_TICKS[i], yDec: D_Y_DEC[i],
}));
</script>
</body>
</html>
